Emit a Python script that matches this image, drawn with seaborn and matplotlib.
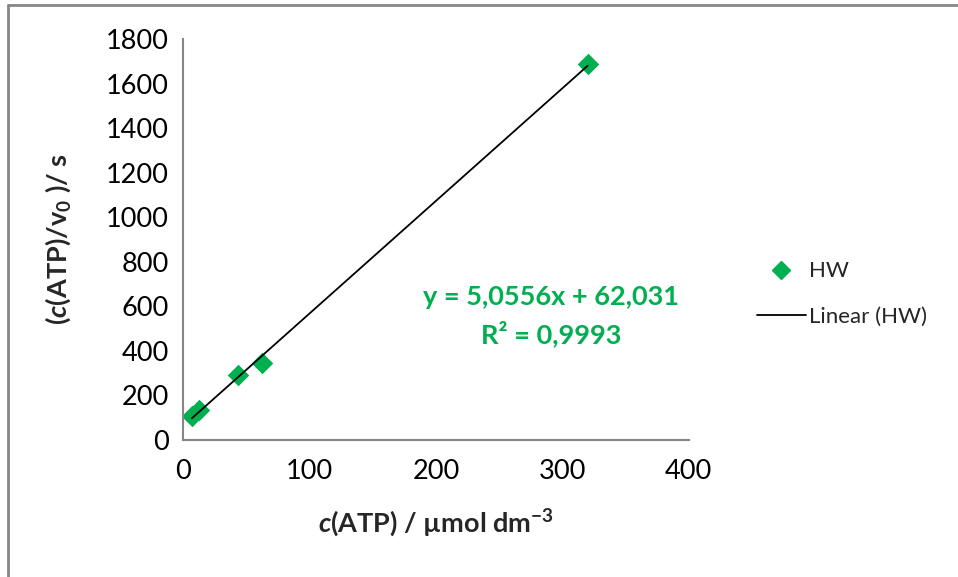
import numpy as np
import pandas as pd
import matplotlib
matplotlib.use('Agg')
import matplotlib.pyplot as plt
import seaborn as sns
from matplotlib.lines import Line2D

# data
c_atp = [7, 12.5, 43.5, 62.5, 320]
ratio = [110, 135, 292, 346, 1688]
slope, intercept = 5.0556, 62.031
r2_text = '0,9993'

df = pd.DataFrame({'c': c_atp, 'r': ratio})

sns.set_theme(style='white')
plt.rcParams['font.family'] = ['Lato', 'DejaVu Sans']
plt.rcParams['mathtext.fontset'] = 'custom'
plt.rcParams['mathtext.rm'] = 'Lato:bold'
plt.rcParams['mathtext.bf'] = 'Lato:bold'
plt.rcParams['mathtext.it'] = 'Lato:bold:italic'

green = '#00b050'
grey = '#868686'

fig = plt.figure(figsize=(9.58, 5.77), dpi=100)
ax = fig.add_axes([0.191, 0.2374, 0.528, 0.695])

sns.scatterplot(data=df, x='c', y='r', marker='D', s=120, color=green,
                edgecolor=green, linewidth=0, ax=ax, zorder=2)
xl = np.array([min(c_atp), max(c_atp)])
ax.plot(xl, slope * xl + intercept, color='black', lw=1.3, zorder=3)

ax.set_xlim(0, 400)
ax.set_ylim(0, 1800)
ax.set_xticks(range(0, 401, 100))
ax.set_yticks(range(0, 1801, 200))
for s in ['top', 'right']:
    ax.spines[s].set_visible(False)
for s in ['left', 'bottom']:
    ax.spines[s].set_color(grey)
    ax.spines[s].set_linewidth(1.5)
ax.tick_params(axis='both', direction='out', length=7, width=1.5, color=grey,
               labelsize=19.5, labelcolor='black', pad=3)
ax.tick_params(axis='x', pad=7)

ax.set_xlabel(r'$c$(ATP) / µmol dm$^{\mathrm{-3}}$', fontsize=19.5, fontweight='bold', labelpad=16)
ax.set_ylabel(r'($c$(ATP)/v$_{\mathrm{0}}$ )/ s', fontsize=19.5, fontweight='bold', labelpad=24)

fig.text(551 / 958, 1 - 297 / 577, f'y = {slope:.4f}x + {intercept:.3f}'.replace('.', ','),
         ha='center', va='center', color=green, fontsize=19.5, fontweight='bold')
fig.text(551 / 958, 1 - 334 / 577, f'R² = {r2_text}', ha='center', va='center',
         color=green, fontsize=19.5, fontweight='bold')

handles = [Line2D([], [], marker='D', color=green, ls='none', markersize=9),
           Line2D([], [], color='black', lw=1.3)]
fig.legend(handles, ['HW', 'Linear (HW)'], loc='center left',
           bbox_to_anchor=(0.79, 0.49), frameon=False, fontsize=16,
           handlelength=2.2, labelspacing=1.15, handletextpad=0.15,
           borderpad=0, borderaxespad=0)

# outer chart area border (top and left visible)
fig.add_artist(Line2D([8 / 958, 1], [1 - 5 / 577, 1 - 5 / 577], color=grey, lw=2,
                      transform=fig.transFigure))
fig.add_artist(Line2D([8 / 958, 8 / 958], [0, 1 - 5 / 577], color=grey, lw=2,
                      transform=fig.transFigure))

fig.savefig('out.png', dpi=100)
